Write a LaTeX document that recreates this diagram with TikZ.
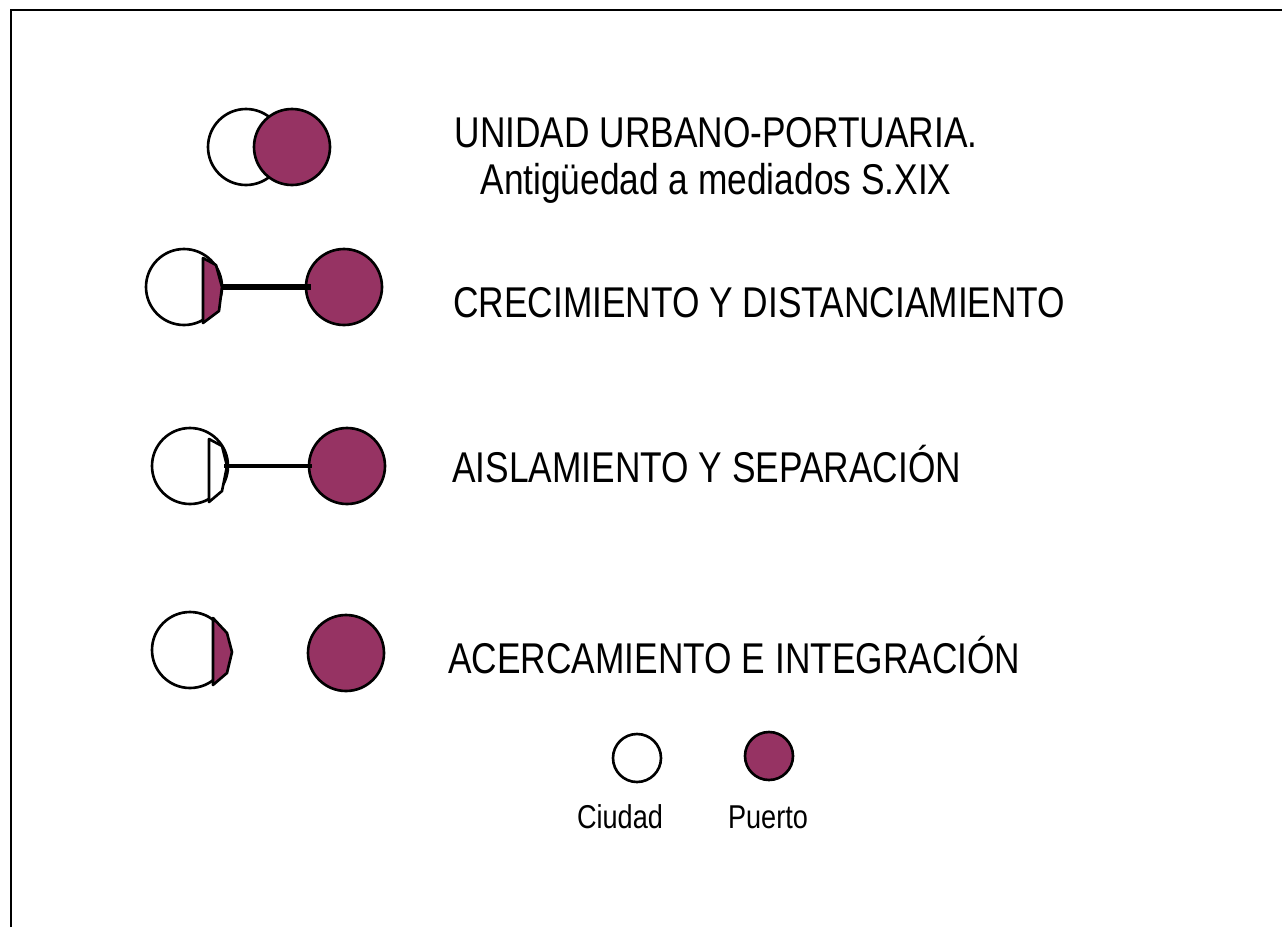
\documentclass[tikz,border=0pt]{standalone}
\usepackage{fontspec}
\setmainfont{Liberation Sans}[FakeStretch=0.82]
\definecolor{vino}{RGB}{150,51,99}
\tikzstyle{ciudad} = [circle, draw, line width=1.5pt, fill=white, minimum size=1.52cm, inner sep=0pt]
\tikzstyle{puerto} = [ciudad, fill=vino]
\tikzstyle{tapa} = [draw, line width=1.5pt, line join=round]
\tikzstyle{enlace} = [line width=3pt]
\tikzstyle{rotulo} = [anchor=base west, inner sep=0pt, font=\fontsize{24.5}{26.7}\selectfont]
\tikzstyle{leyenda} = [anchor=base, inner sep=0pt, font=\fontsize{18.8}{22}\selectfont]

\begin{document}
\begin{tikzpicture}[x=0.02cm, y=-0.02cm]
\useasboundingbox (0,0) rectangle (1282,927);
\draw [line width=1.7pt] (11,927) -- (11,10) -- (1282,10);

% unidad
\node [ciudad] (c1) at (246,147) {};
\node [puerto] (p1) at (292,147) {};
\node [rotulo, anchor=center, align=center] (t1) at (716,160) {UNIDAD URBANO-PORTUARIA.\\Antigüedad a mediados S.XIX};

% crecimiento
\node [ciudad] (c2) at (184,287) {};
\draw [tapa, fill=vino] (203,258) -- (216,265) -- (222,287) -- (219,311) -- (203,323) -- cycle;
\node [puerto] (p2) at (344,287) {};
\coordinate (k2) at (222,287);
\draw [enlace] (k2) -- ([xshift=0.12cm]p2.west);
\node [rotulo] (t2) at (453,317) {CRECIMIENTO Y DISTANCIAMIENTO};

% aislamiento
\node [ciudad] (c3) at (190,466) {};
\draw [tapa, fill=white] (209,439) -- (222,446) -- (227,466) -- (222,491) -- (209,502) -- cycle;
\node [puerto] (p3) at (347,466) {};
\coordinate (k3) at (224,466);
\draw [enlace, line width=2.5pt] (k3) -- ([xshift=0.08cm]p3.west);
\node [rotulo] (t3) at (452,482) {AISLAMIENTO Y SEPARACIÓN};

% acercamiento
\node [ciudad] (c4) at (190,650) {};
\draw [tapa, fill=vino] (213,618) -- (227,633) -- (232,652) -- (227,673) -- (213,685) -- cycle;
\node [puerto] (p4) at (346,653) {};
\node [rotulo] (t4) at (448,673) {ACERCAMIENTO E INTEGRACIÓN};

% leyenda
\node [ciudad, minimum size=0.96cm] (lc) at (637,758) {};
\node [puerto, minimum size=0.96cm] (lp) at (769,756) {};
\node [leyenda] (lct) at (620,828) {Ciudad};
\node [leyenda] (lpt) at (768,828) {Puerto};

\end{tikzpicture}
\end{document}
